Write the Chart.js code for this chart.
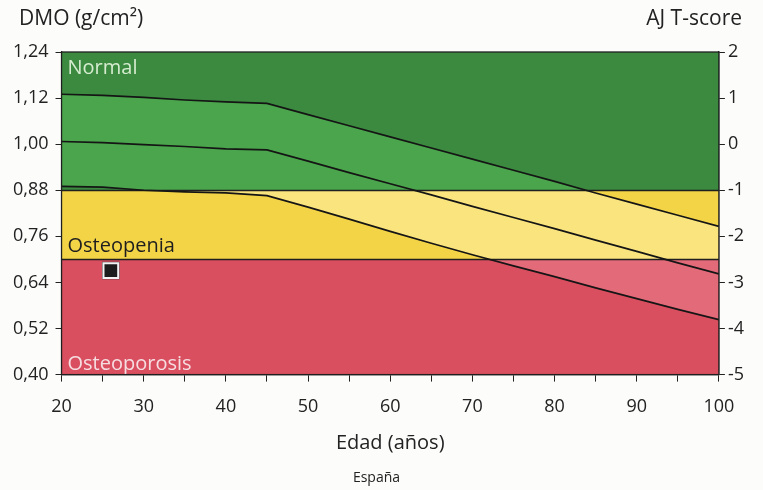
<!DOCTYPE html>
<html>
<head>
<meta charset="utf-8">
<script src="https://cdn.jsdelivr.net/npm/chart.js@4.4.1/dist/chart.umd.min.js"></script>
<style>
  html, body { margin: 0; padding: 0; background: #fcfcfb; }
  #wrap { position: relative; width: 763px; height: 490px; }
</style>
</head>
<body>
<div id="wrap"><canvas id="chart"></canvas></div>
<script>
// Edad (años) sampled every 5 years
const ages = [20, 25, 30, 35, 40, 45, 50, 55, 60, 65, 70, 75, 80, 85, 90, 95, 100];

// Reference curves (g/cm²)
const upperCurve = [1.130, 1.127, 1.122, 1.115, 1.110, 1.106, 1.077, 1.048, 1.019, 0.990, 0.961, 0.932, 0.903, 0.873, 0.844, 0.815, 0.786];
const middleCurve = [1.007, 1.004, 0.999, 0.994, 0.988, 0.985, 0.956, 0.926, 0.897, 0.868, 0.838, 0.809, 0.780, 0.750, 0.721, 0.691, 0.662];
const lowerCurve = [0.890, 0.888, 0.880, 0.876, 0.873, 0.866, 0.836, 0.805, 0.773, 0.742, 0.712, 0.683, 0.655, 0.626, 0.598, 0.570, 0.543];

// Patient measurement
const patientAge = [26];
const patientBmd = [0.671];

// Axis ticks
const bmdTicks = [0.40, 0.52, 0.64, 0.76, 0.88, 1.00, 1.12, 1.24];
const tScoreTicks = [-5, -4, -3, -2, -1, 0, 1, 2];

// Diagnostic bands, top to bottom
const bandLimits = [1.24, 0.88, 0.70, 0.40];
const bandNames = ['Normal', 'Osteopenia', 'Osteoporosis'];
const bandDark = ['#3b8a40', '#f4d447', '#d94f5f'];
const bandLight = ['#4aa54c', '#f9e47e', '#e36a79'];
const bandText = ['#d6ecd0', '#1e1e1e', '#f6dde1'];

const FONT = "'Open Sans', 'Noto Sans', sans-serif";

const toPoints = ( ys ) => ages.map( ( x, i ) => ( { x, y: ys[ i ] } ) );

const zonesPlugin = {
  id: 'zones',
  beforeDatasetsDraw( chart ) {
    const { ctx, chartArea: a, scales } = chart;
    const y = scales.y;
    ctx.save();
    ctx.beginPath();
    ctx.rect( a.left, a.top, a.right - a.left, a.bottom - a.top );
    ctx.clip();

    // dark band fills
    for ( let i = 0; i < bandNames.length; i++ ) {
      const top = y.getPixelForValue( bandLimits[ i ] );
      const bot = y.getPixelForValue( bandLimits[ i + 1 ] );
      ctx.fillStyle = bandDark[ i ];
      ctx.fillRect( a.left, top, a.right - a.left, bot - top );
    }

    // lighter fill between the upper and lower reference curves
    const up = chart.getDatasetMeta( 0 ).data;
    const lo = chart.getDatasetMeta( 2 ).data;
    ctx.beginPath();
    up.forEach( ( p, i ) => ( i ? ctx.lineTo( p.x, p.y ) : ctx.moveTo( p.x, p.y ) ) );
    for ( let i = lo.length - 1; i >= 0; i-- ) {
      ctx.lineTo( lo[ i ].x, lo[ i ].y );
    }
    ctx.closePath();
    ctx.clip();
    for ( let i = 0; i < bandNames.length; i++ ) {
      const top = y.getPixelForValue( bandLimits[ i ] );
      const bot = y.getPixelForValue( bandLimits[ i + 1 ] );
      ctx.fillStyle = bandLight[ i ];
      ctx.fillRect( a.left, top, a.right - a.left, bot - top );
    }
    ctx.restore();

    // band boundaries
    ctx.save();
    ctx.strokeStyle = '#1f1f1f';
    ctx.lineWidth = 1.3;
    for ( let i = 1; i < bandLimits.length - 1; i++ ) {
      const py = Math.round( y.getPixelForValue( bandLimits[ i ] ) ) + 0.5;
      ctx.beginPath();
      ctx.moveTo( a.left, py );
      ctx.lineTo( a.right, py );
      ctx.stroke();
    }

    // band names
    ctx.font = `20px ${ FONT }`;
    ctx.textAlign = 'left';
    ctx.textBaseline = 'alphabetic';
    ctx.fillStyle = bandText[ 0 ];
    ctx.fillText( bandNames[ 0 ], a.left + 6, a.top + 22 );
    ctx.fillStyle = bandText[ 1 ];
    ctx.fillText( bandNames[ 1 ], a.left + 6, y.getPixelForValue( bandLimits[ 2 ] ) - 7 );
    ctx.fillStyle = bandText[ 2 ];
    ctx.fillText( bandNames[ 2 ], a.left + 6, a.bottom - 5 );
    ctx.restore();
  },
  afterDraw( chart ) {
    const { ctx, chartArea: a } = chart;
    ctx.save();
    ctx.strokeStyle = '#1f1f1f';
    ctx.lineWidth = 1.3;
    ctx.strokeRect( a.left, a.top, a.right - a.left, a.bottom - a.top );

    ctx.fillStyle = '#222';
    ctx.font = `21px ${ FONT }`;
    ctx.textBaseline = 'alphabetic';
    ctx.textAlign = 'left';
    ctx.fillText( 'DMO (g/cm²)', 19, 25 );
    ctx.textAlign = 'right';
    ctx.fillText( 'AJ T-score', 742, 25 );
    ctx.restore();
  },
};

const lineStyle = {
  borderColor: '#151515',
  borderWidth: 1.7,
  pointRadius: 0,
  fill: false,
  tension: 0,
  order: 2,
};

new Chart( document.getElementById( 'chart' ), {
  type: 'line',
  data: {
    datasets: [
      { ...lineStyle, label: 'upper', data: toPoints( upperCurve ) },
      { ...lineStyle, label: 'middle', data: toPoints( middleCurve ) },
      { ...lineStyle, label: 'lower', data: toPoints( lowerCurve ) },
      {
        type: 'scatter',
        label: 'patient-outline',
        data: patientAge.map( ( x, i ) => ( { x, y: patientBmd[ i ] } ) ),
        pointStyle: 'rect',
        pointRadius: 12.3,
        backgroundColor: '#3a3a3a',
        borderWidth: 0,
        order: 1,
      },
      {
        type: 'scatter',
        label: 'patient',
        data: patientAge.map( ( x, i ) => ( { x, y: patientBmd[ i ] } ) ),
        pointStyle: 'rect',
        pointRadius: 10.4,
        backgroundColor: '#1c1c1c',
        borderColor: '#f2f2f2',
        borderWidth: 2,
        order: 0,
      },
    ],
  },
  options: {
    responsive: true,
    maintainAspectRatio: false,
    animation: false,
    events: [],
    layout: { padding: { top: 52, left: 6, right: 16, bottom: 4 } },
    plugins: {
      legend: { display: false },
      tooltip: { enabled: false },
      title: {
        display: true,
        position: 'bottom',
        text: 'España',
        color: '#222',
        font: { family: FONT, size: 14, weight: 'normal' },
        padding: { top: 14, bottom: 0 },
      },
    },
    scales: {
      x: {
        type: 'linear',
        min: 20,
        max: 100,
        ticks: {
          stepSize: 5,
          autoSkip: false,
          maxRotation: 0,
          color: '#222',
          font: { family: FONT, size: 18 },
          padding: 14,
          callback: ( v ) => ( v % 10 === 0 ? String( v ) : '' ),
        },
        grid: { drawOnChartArea: false, drawTicks: true, tickLength: 7, color: '#222' },
        border: { display: true, color: '#222', width: 1.3 },
        title: {
          display: true,
          text: 'Edad (años)',
          color: '#222',
          font: { family: FONT, size: 20 },
          padding: { top: 0, bottom: 0 },
        },
      },
      y: {
        position: 'left',
        min: bmdTicks[ 0 ],
        max: bmdTicks[ bmdTicks.length - 1 ],
        afterBuildTicks: ( scale ) => {
          scale.ticks = bmdTicks.map( ( value ) => ( { value } ) );
        },
        ticks: {
          color: '#222',
          font: { family: FONT, size: 18 },
          padding: 7,
          callback: ( v ) => Number( v ).toFixed( 2 ).replace( '.', ',' ),
        },
        grid: { drawOnChartArea: false, drawTicks: true, tickLength: 6, color: '#222' },
        border: { display: true, color: '#222', width: 1.3 },
      },
      y2: {
        position: 'right',
        min: tScoreTicks[ 0 ],
        max: tScoreTicks[ tScoreTicks.length - 1 ],
        afterBuildTicks: ( scale ) => {
          scale.ticks = tScoreTicks.map( ( value ) => ( { value } ) );
        },
        ticks: {
          color: '#222',
          font: { family: FONT, size: 18 },
          padding: 3,
          callback: ( v ) => String( v ),
        },
        grid: { drawOnChartArea: false, drawTicks: true, tickLength: 6, color: '#222' },
        border: { display: true, color: '#222', width: 1.3 },
      },
    },
  },
  plugins: [ zonesPlugin ],
} );
</script>
</body>
</html>
